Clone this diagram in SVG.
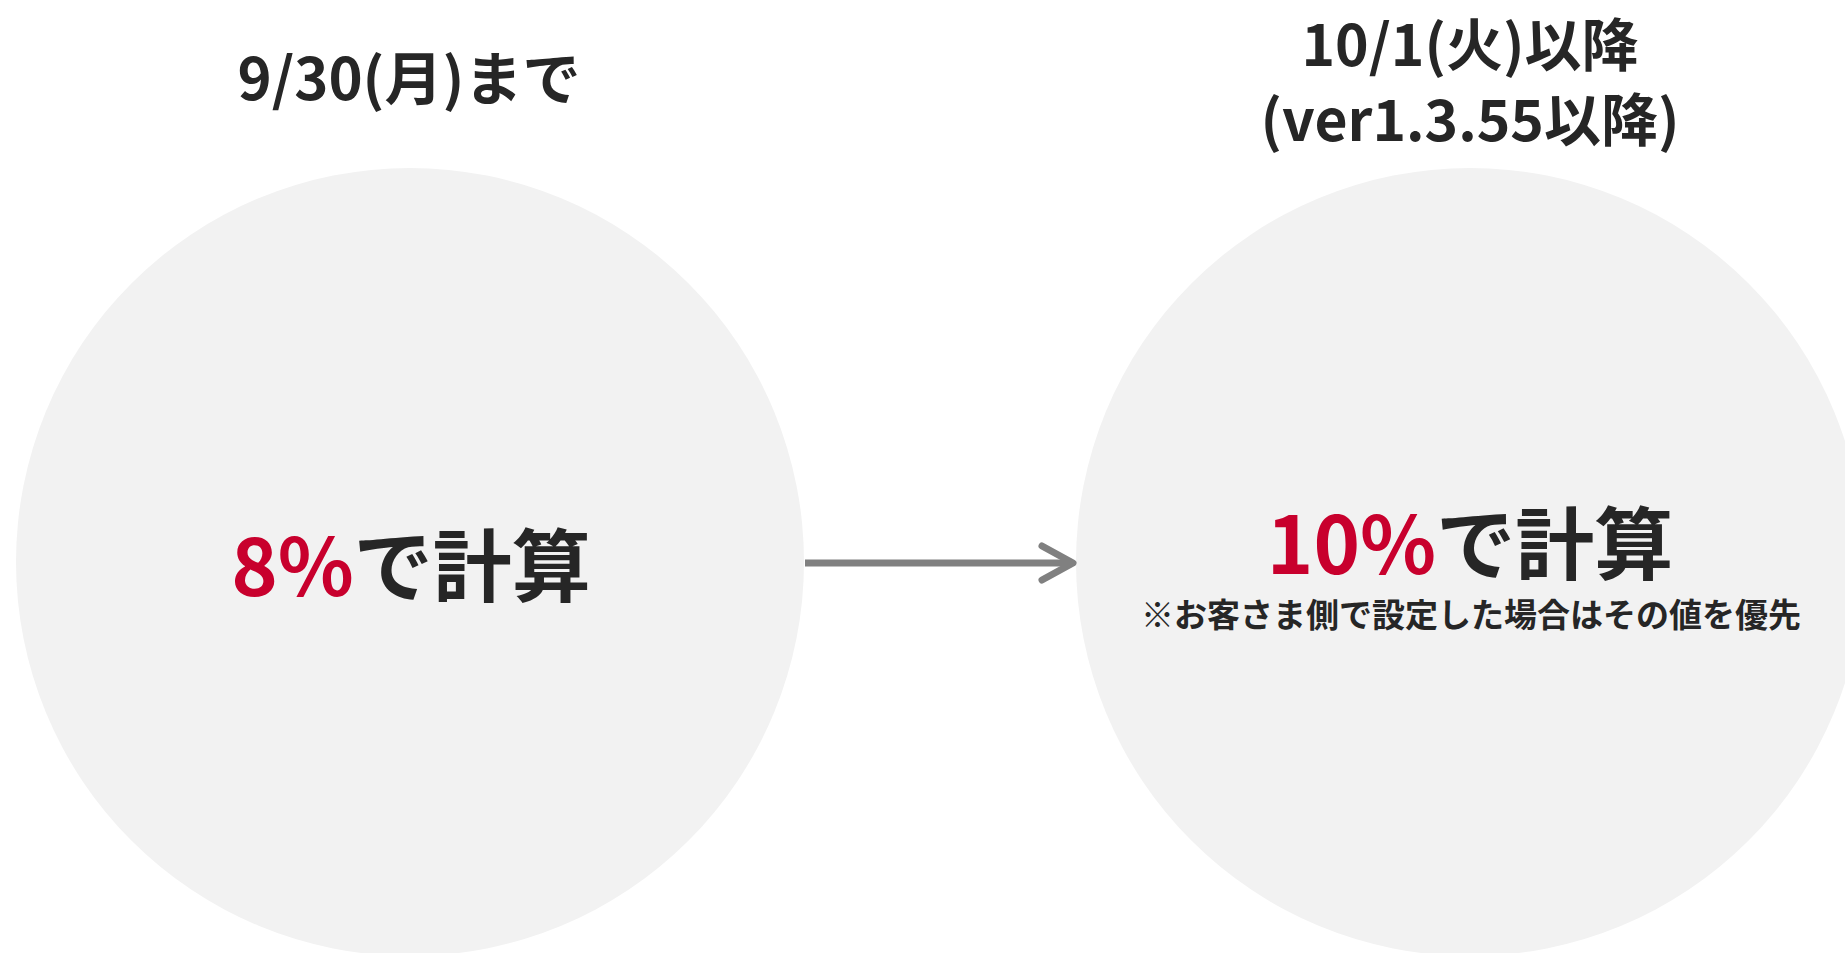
<svg xmlns="http://www.w3.org/2000/svg" width="1845" height="953" viewBox="0 0 1845 953">
<style>
.t{font-family:"Noto Sans CJK JP","Noto Sans",sans-serif;font-weight:bold;fill:#262626;text-anchor:middle}
.red{fill:#C8002D}
.circ{fill:#F2F2F2}
</style>
<rect width="1845" height="953" fill="#FFFFFF"/>
<g id="title-left">
<text class="t" x="409" y="100" font-size="58">9/30(月)まで</text>
</g>
<g id="title-right">
<text class="t" x="1470" y="66" font-size="57">10/1(火)以降</text>
<text class="t" x="1470" y="141" font-size="57">(ver1.3.55以降)</text>
</g>
<g id="node-before">
<circle class="circ" cx="410" cy="562" r="394"/>
<text class="t" x="411" y="596" font-size="79"><tspan class="red">8%</tspan>で計算</text>
</g>
<g id="node-after">
<circle class="circ" cx="1470" cy="562" r="394"/>
<text class="t" x="1470" y="574" font-size="79"><tspan class="red">10%</tspan>で計算</text>
<text class="t" x="1471" y="627" font-size="33">※お客さま側で設定した場合はその値を優先</text>
</g>
<g id="connectors" fill="none" stroke="#808080" stroke-width="7" stroke-linecap="round" stroke-linejoin="round">
<line x1="805" y1="563" x2="1072" y2="563" stroke-linecap="butt"/>
<polyline points="1042,546 1073,563 1042,580"/>
</g>
</svg>
